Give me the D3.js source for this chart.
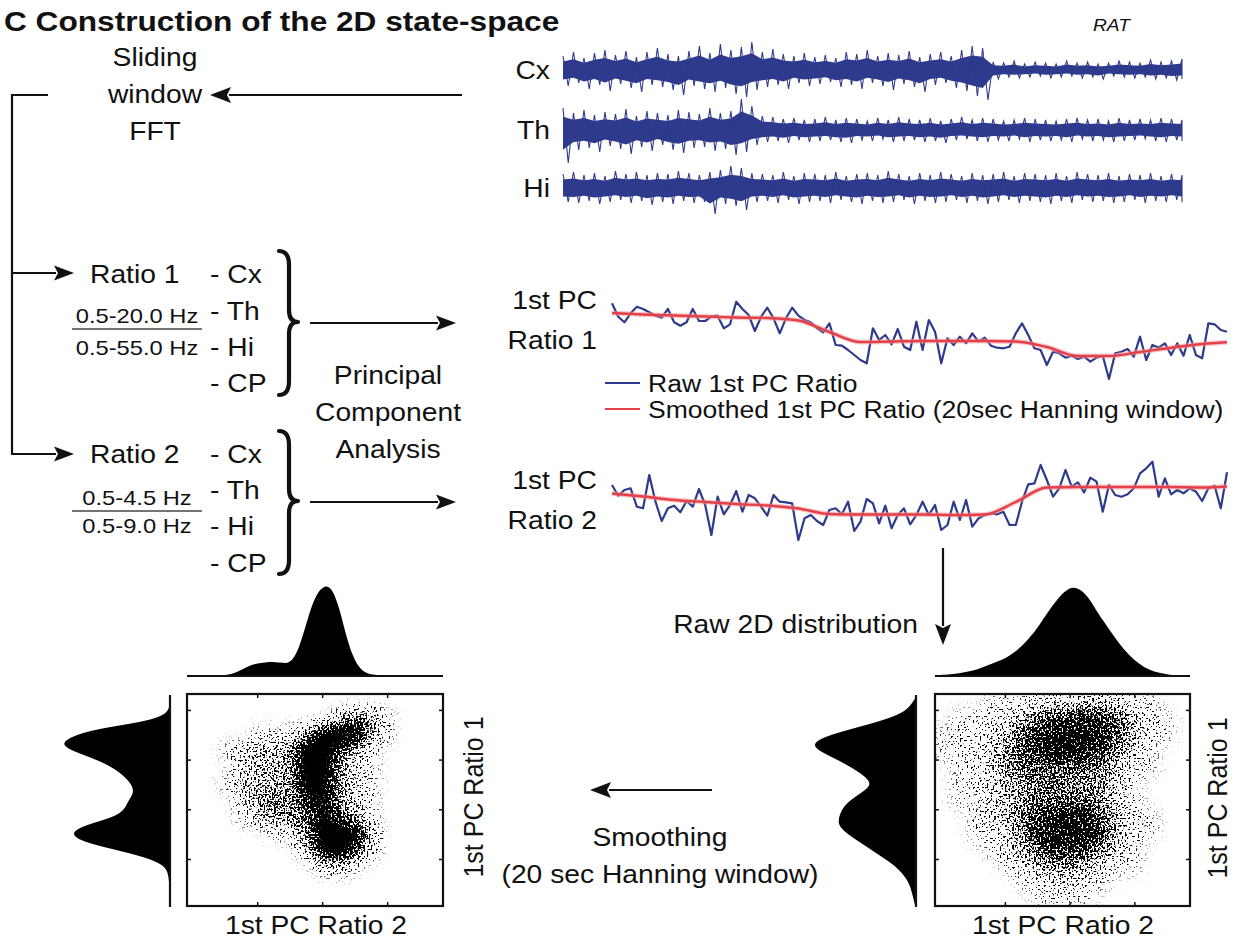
<!DOCTYPE html>
<html><head><meta charset="utf-8">
<script src="https://cdn.jsdelivr.net/npm/d3@7"></script>
<style>html,body{margin:0;padding:0;background:#fff;overflow:hidden}svg{display:block}</style>
</head><body>
<svg id="chart" width="1237" height="942"></svg>
<script>
// ---------------- DATA ----------------
const eegChannels = ["Cx", "Th", "Hi"];
// envelope of each raw trace (upper / lower excursion, arbitrary units), 60 samples along time
const eegCxUpper = [14,18,12,17,20,15,19,13,18,22,16,14,19,24,17,26,20,23,28,18,21,16,14,17,13,15,12,18,16,20,14,17,15,19,13,16,18,14,20,24,22,8,7,9,6,8,7,6,9,7,8,6,7,9,8,7,10,8,9,11];
const eegCxLower = [-16,-13,-19,-15,-21,-14,-18,-22,-15,-17,-20,-25,-16,-19,-22,-18,-24,-27,-20,-17,-15,-19,-13,-16,-14,-12,-17,-15,-19,-13,-16,-20,-14,-17,-22,-15,-13,-18,-21,-26,-30,-9,-7,-8,-7,-6,-8,-7,-6,-8,-7,-9,-6,-7,-8,-7,-9,-8,-10,-9];
const eegThUpper = [22,17,20,15,18,16,21,14,19,17,15,20,18,16,22,17,19,31,24,14,13,11,12,10,11,13,10,12,11,9,12,10,13,11,10,12,9,11,13,10,12,11,9,10,12,11,10,9,11,12,10,11,9,12,10,11,10,12,11,10];
const eegThLower = [-33,-20,-18,-22,-16,-19,-24,-17,-21,-15,-20,-23,-18,-17,-21,-19,-25,-22,-15,-12,-11,-13,-10,-12,-11,-10,-12,-13,-10,-11,-9,-12,-11,-10,-12,-11,-13,-10,-9,-11,-12,-10,-11,-9,-12,-10,-11,-10,-12,-9,-11,-10,-12,-11,-10,-9,-11,-12,-10,-11];
const eegHiUpper = [14,16,13,15,12,17,14,16,13,15,14,17,15,13,16,18,22,20,15,14,13,16,12,15,14,13,16,12,14,15,13,17,14,12,15,13,16,14,12,15,13,14,16,12,15,14,13,15,12,16,14,13,15,12,14,13,15,12,14,13];
const eegHiLower = [-14,-15,-13,-16,-14,-12,-15,-13,-17,-14,-16,-13,-15,-14,-26,-16,-18,-22,-14,-13,-15,-12,-16,-14,-13,-15,-12,-14,-16,-13,-15,-14,-12,-16,-13,-15,-14,-12,-15,-13,-16,-14,-12,-15,-13,-14,-16,-13,-15,-12,-14,-13,-15,-14,-12,-15,-13,-14,-12,-14];

// 1st PC time series (100 epochs)
const pc1Raw = [4.17,2.83,2.27,3.17,3.83,3.6,3.27,2.93,2.73,3.6,
  2.27,1.93,2.27,3.6,2.4,2.4,2.83,2.93,1.67,2.07,
  4.33,3.6,3.0,1.4,2.83,3.73,2.67,1.17,2.67,3.73,
  2.93,2.5,2.27,1.67,1.27,2.17,0,-0.07,-0.5,-1.0,
  -1.5,-1.83,1.67,0.5,1.0,0.07,1.6,-0.17,-0.5,2.33,
  -0.5,2.5,1.33,-1.83,0.67,0,0.83,0.17,1.17,0.33,
  0.73,-0.07,-0.27,-0.33,-0.17,1.17,2.17,1.0,-0.33,-0.5,
  -2.0,-0.67,-0.83,-1.27,-1.07,-1.4,-1.17,-1.67,-1.27,-1.07,
  -3.4,-0.83,-0.67,-0.4,-1.17,0.83,-1.5,0,-0.27,0.17,
  -1.0,0.17,-1.07,1.0,-1.0,-1.33,2.17,2.07,1.5,1.33];
const pc2Raw = [2.5,1.43,2.0,2.17,0.33,0.17,3.5,0.83,-1.1,0.17,
  0.43,-0.23,0.9,0.33,2.1,0.5,-2.5,1.33,-0.43,0.5,
  1.9,-0.17,1.5,1.17,0.33,-0.57,1.5,0.83,0.77,0.67,
  -3.0,-0.83,-0.5,-1.1,-1.5,0,0.17,-0.43,0.83,-2.1,
  -1.17,1.1,0.67,-1.33,0.43,-1.83,-0.5,0.17,-1.43,-0.5,
  0.83,-0.5,0.5,-2.0,-1.5,0.83,-1.0,1.0,-1.67,-0.83,
  -0.5,-0.33,-0.43,-0.17,-1.5,-1.5,0.83,2.57,2.67,4.5,
  3.0,1.33,2.17,4.0,2.33,2.77,1.77,3.23,2.83,-0.17,
  2.5,1.5,1.33,1.57,2.17,3.67,4.17,4.83,1.33,3.17,
  1.57,2.0,1.67,2.17,1.83,0.9,2.17,2.43,0.17,3.77];
const smoothEpochs = [0,5,10,15,20,25,30,35,40,45,50,55,60,65,70,75,80,85,90,95,99];
const pc1Smooth = [3.2,3.05,2.95,2.85,2.75,2.7,2.45,1.3,0.3,0.35,0.4,0.4,0.4,0.35,-0.2,-1.1,-1.1,-0.7,-0.27,0.1,0.27];
const pc2Smooth = [1.65,1.35,1.0,0.8,0.6,0.45,0.15,-0.4,-0.45,-0.45,-0.45,-0.5,-0.45,0.8,2.25,2.3,2.3,2.3,2.3,2.25,2.35];

// marginal distributions (counts, arbitrary units)
const smoothRatio2Hist = [0,0,0,0,0.5,1,3,7,11,13,14,14,13,13,27,55,80,90,90,70,36,14,4,1.5,0.8,0.3,0,0,0,0,0,0,0];
const rawRatio2Hist = [1,1,2,4,6,10,14,18,25,35,47,63,77,88,89,80,62,48,33,21,12,6,3,1,0.5,0.3];
const smoothRatio1Hist = [0,0.5,2,20,75,100,110,92,70,55,45,38,36,42,45,55,85,100,90,58,25,6,2,1,0.5,0,0];
const rawRatio1Hist = [0,5,13,35,65,93,105,93,76,62,50,44,55,67,74,77,78,70,58,46,34,22,14,8,5,3,1];

// 2D point density (rows top->bottom = high->low Ratio 1, cols = Ratio 2), 0..10
const smoothDensity = [
 [0,0,0,0,0,0,0,0,0,0,0,0,0,0,0,0],
 [0,0,0,0,0,0,0,0,0,2,5,4,1,0,0,0],
 [0,0,0,0,1,1,1,4,9,10,9,4,1,0,0,0],
 [0,0,1,2,3,3,4,10,10,6,3,1,0,0,0,0],
 [0,0,0,2,3,3,4,10,10,4,2,1,0,0,0,0],
 [0,0,1,3,3,3,4,9,9,4,2,1,0,0,0,0],
 [0,0,0,2,4,5,4,7,9,4,2,1,0,0,0,0],
 [0,0,0,1,3,4,4,5,9,6,3,1,0,0,0,0],
 [0,0,0,0,0,1,2,4,10,10,9,3,0,0,0,0],
 [0,0,0,0,0,0,0,3,9,10,7,2,0,0,0,0],
 [0,0,0,0,0,0,0,0,2,3,1,0,0,0,0,0],
 [0,0,0,0,0,0,0,0,0,0,0,0,0,0,0,0],
 [0,0,0,0,0,0,0,0,0,0,0,0,0,0,0,0]];
const rawDensity = [
 [0,0,0,1,1,1,2,2,2,3,3,2,1,1,0,0],
 [0,1,1,1,2,3,5,6,6,7,6,5,3,1,1,0],
 [1,1,1,2,3,5,7,8,8,8,7,5,3,1,1,0],
 [1,1,1,2,4,6,7,8,8,7,6,4,2,1,0,0],
 [0,1,1,2,4,5,5,5,5,5,4,3,1,1,0,0],
 [0,1,1,2,3,4,5,5,4,4,4,2,1,0,0,0],
 [0,1,1,2,3,4,5,5,5,5,4,2,1,0,0,0],
 [0,0,1,2,3,5,6,7,8,7,5,3,1,1,0,0],
 [0,0,1,1,2,4,7,8,8,8,6,3,1,1,0,0],
 [0,0,0,1,2,4,5,7,7,6,4,2,1,0,0,0],
 [0,0,0,0,1,2,3,4,4,3,2,1,1,0,0,0],
 [0,0,0,0,0,1,1,2,2,1,1,0,0,0,0,0],
 [0,0,0,0,0,0,1,1,1,1,0,0,0,0,0,0]];
const scatterXTicks = [0, 1, 2];
const scatterYTicks = [0, 1, 2, 3];

const ratio1Channels = ["- Cx", "- Th", "- Hi", "- CP"];
const ratio1Bands = ["0.5-20.0 Hz", "0.5-55.0 Hz"];
const ratio2Bands = ["0.5-4.5 Hz", "0.5-9.0 Hz"];
const legendLabels = ["Raw 1st PC Ratio", "Smoothed 1st PC Ratio (20sec Hanning window)"];

// ---------------- DRAWING ----------------
const SX = 1.13;
const FONT = "'Liberation Sans', Arial, Helvetica, sans-serif";
const INK = "#111";
const BLUE = "#2e3a8c";
const RED = "#e5404a";
const svg = d3.select("#chart");

function label(x, y, s, o = {}) {
  return svg.append("text")
    .attr("transform", `translate(${x},${y}) scale(${SX},1)` + (o.rotate ? ` rotate(${o.rotate})` : ""))
    .attr("text-anchor", o.anchor || "start")
    .attr("font-family", FONT)
    .attr("font-size", o.size || 25)
    .attr("font-weight", o.weight || "normal")
    .attr("font-style", o.style || "normal")
    .attr("fill", INK)
    .text(s);
}
function arrow(x1, y1, x2, y2, head = 20, hw = 7.5, w = 2.2) {
  const dx = x2 - x1, dy = y2 - y1, L = Math.hypot(dx, dy), ux = dx / L, uy = dy / L;
  const bx = x2 - ux * head, by = y2 - uy * head;
  svg.append("line").attr("x1", x1).attr("y1", y1).attr("x2", bx + ux * 2).attr("y2", by + uy * 2)
    .attr("stroke", INK).attr("stroke-width", w);
  const p = d3.path();
  p.moveTo(x2, y2); p.lineTo(bx - uy * hw, by + ux * hw); p.lineTo(bx + ux * 4, by + uy * 4); p.lineTo(bx + uy * hw, by - ux * hw); p.closePath();
  svg.append("path").attr("d", p.toString()).attr("fill", INK);
}
function brace(x0, y1, y2, ym) {
  const xm = x0 + 10, xp = x0 + 19;
  const p = d3.path();
  p.moveTo(x0, y1);
  p.quadraticCurveTo(xm, y1, xm, y1 + 14);
  p.lineTo(xm, ym - 12);
  p.quadraticCurveTo(xm, ym, xp, ym);
  p.quadraticCurveTo(xm, ym, xm, ym + 12);
  p.lineTo(xm, y2 - 14);
  p.quadraticCurveTo(xm, y2, x0, y2);
  svg.append("path").attr("d", p.toString()).attr("fill", "none").attr("stroke", INK)
    .attr("stroke-width", 4.2).attr("stroke-linecap", "round").attr("stroke-linejoin", "round");
}

// title
label(4, 31, "C Construction of the 2D state-space", {size: 28, weight: "bold"});
label(1093, 31, "RAT", {size: 17, style: "italic"});

// ---- EEG traces ----
const eegUpper = [eegCxUpper, eegThUpper, eegHiUpper];
const eegLower = [eegCxLower, eegThLower, eegHiLower];
const eegCenters = [70, 130, 188];
const eegX = d3.scaleLinear().domain([0, eegCxUpper.length - 1]).range([563, 1182]);
const eegStep = eegX(1) - eegX(0);
eegChannels.forEach((ch, k) => {
  const c = eegCenters[k];
  const y = d3.scaleLinear().domain([-40, 40]).range([c + 40, c - 40]);
  // dense core of the trace
  const core = d3.area().x((d, i) => eegX(i)).y0((d, i) => y(eegLower[k][i] * 0.6)).y1(d => y(d * 0.6)).curve(d3.curveLinear);
  svg.append("path").attr("d", core(eegUpper[k])).attr("fill", BLUE);
  // spiky excursions: the trace swings between each upper and lower excursion
  const p = d3.path();
  eegUpper[k].forEach((u, i) => {
    const x = eegX(i);
    if (i === 0) p.moveTo(x, y(u)); else p.lineTo(x, y(u));
    p.lineTo(Math.min(x + eegStep * 0.5, eegX(eegUpper[k].length - 1)), y(eegLower[k][i]));
  });
  svg.append("path").attr("d", p.toString()).attr("fill", "none").attr("stroke", BLUE).attr("stroke-width", 1.1).attr("stroke-linejoin", "miter");
  label(550, c + 9, ch, {anchor: "end"});
});

// ---- flow diagram (left) ----
label(155, 66, "Sliding", {anchor: "middle"});
label(155, 103, "window", {anchor: "middle"});
label(155, 140, "FFT", {anchor: "middle"});
arrow(462, 95, 210, 95, 21, 8);
svg.append("path").attr("d", "M48,95 L12,95 L12,454").attr("fill", "none").attr("stroke", INK).attr("stroke-width", 2.2);
arrow(11, 273, 74, 273, 20, 7.5);
arrow(11, 454, 74, 454, 20, 7.5);

const r1Base = [283, 320, 356, 392];
const r2Base = [463, 499, 535, 572];
label(90, 283, "Ratio 1");
label(90, 463, "Ratio 2");
ratio1Channels.forEach((s, i) => { label(210, r1Base[i], s); label(210, r2Base[i], s); });
label(137, 323, ratio1Bands[0], {anchor: "middle", size: 21});
label(137, 355, ratio1Bands[1], {anchor: "middle", size: 21});
svg.append("line").attr("x1", 72).attr("x2", 202).attr("y1", 329).attr("y2", 329).attr("stroke", "#444").attr("stroke-width", 1.6);
label(137, 505, ratio2Bands[0], {anchor: "middle", size: 21});
label(137, 533, ratio2Bands[1], {anchor: "middle", size: 21});
svg.append("line").attr("x1", 72).attr("x2", 202).attr("y1", 511).attr("y2", 511).attr("stroke", "#444").attr("stroke-width", 1.6);
brace(279, 251, 395, 322);
brace(279, 431, 574, 501);
arrow(310, 323, 456, 323, 20, 7.5);
arrow(310, 502, 456, 502, 20, 7.5);
label(388, 384, "Principal", {anchor: "middle"});
label(388, 421, "Component", {anchor: "middle"});
label(388, 458, "Analysis", {anchor: "middle"});

// ---- PC time series ----
const tX = d3.scaleLinear().domain([0, pc1Raw.length - 1]).range([612, 1227]);
const pc1Y = d3.scaleLinear().domain([-4, 5]).range([385, 295]);
const pc2Y = d3.scaleLinear().domain([-4, 5]).range([550, 460]);
[[pc1Raw, pc1Smooth, pc1Y], [pc2Raw, pc2Smooth, pc2Y]].forEach(([raw, sm, y]) => {
  const lr = d3.line().x((d, i) => tX(i)).y(d => y(d));
  svg.append("path").attr("d", lr(raw)).attr("fill", "none").attr("stroke", BLUE).attr("stroke-width", 2.2).attr("stroke-linejoin", "round");
  const ls = d3.line().x((d, i) => tX(smoothEpochs[i])).y(d => y(d)).curve(d3.curveMonotoneX);
  svg.append("path").attr("d", ls(sm)).attr("fill", "none").attr("stroke", "#f29a9a").attr("stroke-width", 5).attr("opacity", 0.55);
  svg.append("path").attr("d", ls(sm)).attr("fill", "none").attr("stroke", RED).attr("stroke-width", 2.4);
});
label(597, 309, "1st PC", {anchor: "end"});
label(597, 349, "Ratio 1", {anchor: "end"});
label(597, 489, "1st PC", {anchor: "end"});
label(597, 529, "Ratio 2", {anchor: "end"});
// legend
svg.append("line").attr("x1", 605).attr("x2", 640).attr("y1", 383).attr("y2", 383).attr("stroke", BLUE).attr("stroke-width", 2.2);
svg.append("line").attr("x1", 605).attr("x2", 640).attr("y1", 409).attr("y2", 409).attr("stroke", RED).attr("stroke-width", 2.2);
label(648, 392, legendLabels[0], {size: 23.5});
label(648, 418, legendLabels[1], {size: 23.5});

// ---- arrows & captions between panels ----
label(918, 633, "Raw 2D distribution", {anchor: "end"});
arrow(943, 548, 943, 645, 21, 8);
arrow(712, 790, 590, 790, 21, 8);
label(660, 846, "Smoothing", {anchor: "middle"});
label(660, 883, "(20 sec Hanning window)", {anchor: "middle"});

// ---- stipple filter that turns a density field into speckled dots ----
const defs = svg.append("defs");
const f = defs.append("filter").attr("id", "stipple").attr("color-interpolation-filters", "sRGB")
  .attr("x", "-5%").attr("y", "-5%").attr("width", "110%").attr("height", "110%");
f.append("feGaussianBlur").attr("in", "SourceAlpha").attr("stdDeviation", 7).attr("result", "dens");
f.append("feTurbulence").attr("type", "fractalNoise").attr("baseFrequency", 0.55).attr("numOctaves", 1).attr("seed", 4).attr("result", "noise");
f.append("feColorMatrix").attr("in", "noise").attr("type", "matrix")
  .attr("values", "0 0 0 0 0  0 0 0 0 0  0 0 0 0 0  3 0 0 0 -1").attr("result", "n");
f.append("feComposite").attr("in", "dens").attr("in2", "n").attr("operator", "arithmetic")
  .attr("k1", 0).attr("k2", 1.3).attr("k3", -1).attr("k4", 0).attr("result", "d");
f.append("feComponentTransfer").attr("in", "d").attr("result", "m").append("feFuncA").attr("type", "linear").attr("slope", 8).attr("intercept", 0);
f.append("feFlood").attr("flood-color", "#000").attr("result", "blk");
f.append("feComposite").attr("in", "blk").attr("in2", "m").attr("operator", "in");

function statePanel(id, box, dens, topHist, sideHist, sideBase) {
  const xs = d3.scaleLinear().domain([-1.08, 2.86]).range([box.x, box.x + box.w]);
  const ys = d3.scaleLinear().domain([-0.946, 3.32]).range([box.y + box.h, box.y]);
  const cols = d3.scaleBand().domain(d3.range(dens[0].length)).range([box.x, box.x + box.w]);
  const rows = d3.scaleBand().domain(d3.range(dens.length)).range([box.y, box.y + box.h]);
  const op = d3.scaleLinear().domain([0, 10]).range([0, 1]).clamp(true);
  defs.append("clipPath").attr("id", "clip-" + id).append("rect")
    .attr("x", box.x + 1).attr("y", box.y + 1).attr("width", box.w - 2).attr("height", box.h - 2);
  const cells = [];
  dens.forEach((row, r) => row.forEach((v, c) => cells.push({r, c, v})));
  svg.append("g").attr("clip-path", `url(#clip-${id})`)
    .append("g").attr("filter", "url(#stipple)")
    .selectAll("rect").data(cells).join("rect")
    .attr("x", d => cols(d.c)).attr("y", d => rows(d.r))
    .attr("width", cols.bandwidth()).attr("height", rows.bandwidth())
    .attr("fill", "#000").attr("fill-opacity", d => op(d.v));
  svg.append("rect").attr("x", box.x).attr("y", box.y).attr("width", box.w).attr("height", box.h)
    .attr("fill", "none").attr("stroke", INK).attr("stroke-width", 2.2);
  const tk = g => { g.select(".domain").remove(); g.selectAll("line").attr("stroke", INK).attr("stroke-width", 1.5); };
  svg.append("g").attr("transform", `translate(0,${box.y + box.h})`).call(d3.axisBottom(xs).tickValues(scatterXTicks).tickSize(-4).tickFormat("")).call(tk);
  svg.append("g").attr("transform", `translate(0,${box.y})`).call(d3.axisTop(xs).tickValues(scatterXTicks).tickSize(-4).tickFormat("")).call(tk);
  svg.append("g").attr("transform", `translate(${box.x},0)`).call(d3.axisLeft(ys).tickValues(scatterYTicks).tickSize(-4).tickFormat("")).call(tk);
  svg.append("g").attr("transform", `translate(${box.x + box.w},0)`).call(d3.axisRight(ys).tickValues(scatterYTicks).tickSize(-4).tickFormat("")).call(tk);

  // top marginal (Ratio 2)
  const hx = d3.scaleLinear().domain([0, topHist.length - 1]).range([box.x, box.x + box.w]);
  const hh = d3.scaleLinear().domain([0, 100]).range([0, 100]);
  const baseY = 676;
  svg.append("path").attr("d", d3.area().x((d, i) => hx(i)).y0(baseY).y1(d => baseY - hh(d)).curve(d3.curveBasis)(topHist)).attr("fill", "#000");
  svg.append("line").attr("x1", box.x).attr("x2", box.x + box.w).attr("y1", baseY).attr("y2", baseY).attr("stroke", INK).attr("stroke-width", 2.2);
  // side marginal (Ratio 1)
  const hy = d3.scaleLinear().domain([0, sideHist.length - 1]).range([697, 905]);
  svg.append("path").attr("d", d3.area().y((d, i) => hy(i)).x0(sideBase).x1(d => sideBase - hh(d)).curve(d3.curveBasis)(sideHist)).attr("fill", "#000");
  svg.append("line").attr("x1", sideBase).attr("x2", sideBase).attr("y1", 695).attr("y2", 907).attr("stroke", INK).attr("stroke-width", 2.2);
}
statePanel("sm", {x: 187, y: 694, w: 256, h: 212}, smoothDensity, smoothRatio2Hist, smoothRatio1Hist, 170);
statePanel("raw", {x: 935, y: 694, w: 255, h: 212}, rawDensity, rawRatio2Hist, rawRatio1Hist, 916);

label(316, 934, "1st PC Ratio 2", {anchor: "middle"});
label(1063, 934, "1st PC Ratio 2", {anchor: "middle"});
label(483, 797, "1st PC Ratio 1", {anchor: "middle", rotate: -90});
label(1227, 798, "1st PC Ratio 1", {anchor: "middle", rotate: -90});
</script>
</body></html>
